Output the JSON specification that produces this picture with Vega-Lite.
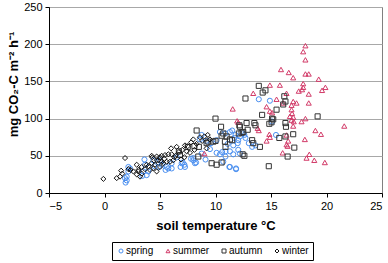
{
  "$schema": "https://vega.github.io/schema/vega-lite/v6.json",
  "width": 333,
  "height": 186,
  "autosize": "none",
  "padding": {"left": 49, "top": 7, "right": 6, "bottom": 70},
  "background": "white",
  "config": {
    "font": "Liberation Sans",
    "view": {"stroke": "#808080", "strokeWidth": 1},
    "axis": {"labelFont": "Liberation Sans", "labelFontSize": 11, "labelColor": "black", "titleFont": "Liberation Sans", "titleFontSize": 13, "titleFontWeight": "bold", "titleColor": "black", "domainColor": "black", "tickColor": "black", "tickSize": 4},
    "legend": {"orient": "none", "legendX": 63, "legendY": 235, "direction": "horizontal", "strokeColor": "black", "padding": 4, "symbolSize": 16, "labelFontSize": 10, "labelFont": "Liberation Sans", "labelColor": "black", "columnPadding": 9, "labelOffset": 0, "symbolStrokeWidth": 1}
  },
  "data": {"values": [
    {"season":"spring","t":1.9,"f":14},{"season":"spring","t":2.0,"f":17},{"season":"spring","t":2.0,"f":22},{"season":"spring","t":1.85,"f":20},{"season":"spring","t":2.15,"f":29},{"season":"spring","t":2.15,"f":35},{"season":"spring","t":2.3,"f":33},{"season":"spring","t":3.4,"f":23},{"season":"spring","t":3.5,"f":29},{"season":"spring","t":3.65,"f":38},{"season":"spring","t":3.6,"f":45},{"season":"spring","t":3.8,"f":24},{"season":"spring","t":3.95,"f":29},{"season":"spring","t":4.5,"f":36},{"season":"spring","t":4.9,"f":35},{"season":"spring","t":5.0,"f":44},{"season":"spring","t":5.15,"f":38},{"season":"spring","t":5.5,"f":31},{"season":"spring","t":5.6,"f":35},{"season":"spring","t":6.05,"f":40},{"season":"spring","t":6.05,"f":33},{"season":"spring","t":5.75,"f":33},{"season":"spring","t":6.95,"f":40},{"season":"spring","t":7.05,"f":41},{"season":"spring","t":6.85,"f":35},{"season":"spring","t":7.2,"f":38},{"season":"spring","t":7.25,"f":35},{"season":"spring","t":8.0,"f":44},{"season":"spring","t":8.0,"f":47},{"season":"spring","t":8.15,"f":40},{"season":"spring","t":8.25,"f":41},{"season":"spring","t":8.75,"f":53},{"season":"spring","t":9.1,"f":45},{"season":"spring","t":8.75,"f":78},{"season":"spring","t":8.6,"f":72},{"season":"spring","t":9.15,"f":70},{"season":"spring","t":9.6,"f":67},{"season":"spring","t":10.1,"f":71},{"season":"spring","t":9.5,"f":59},{"season":"spring","t":10.1,"f":54},{"season":"spring","t":10.6,"f":55},{"season":"spring","t":10.7,"f":42},{"season":"spring","t":11.3,"f":35},{"season":"spring","t":11.85,"f":33},{"season":"spring","t":11.1,"f":66},{"season":"spring","t":11.6,"f":64},{"season":"spring","t":12.0,"f":67},{"season":"spring","t":10.4,"f":82},{"season":"spring","t":10.9,"f":80},{"season":"spring","t":11.3,"f":82},{"season":"spring","t":11.5,"f":84},{"season":"spring","t":11.8,"f":78},{"season":"spring","t":11.7,"f":74},{"season":"spring","t":12.05,"f":71},{"season":"spring","t":12.2,"f":76},{"season":"spring","t":12.45,"f":80},{"season":"spring","t":12.6,"f":78},{"season":"spring","t":12.7,"f":74},{"season":"spring","t":13.0,"f":67},{"season":"spring","t":10.4,"f":52},{"season":"spring","t":10.9,"f":56},{"season":"spring","t":11.3,"f":56},{"season":"spring","t":11.6,"f":52},{"season":"spring","t":12.05,"f":58},{"season":"spring","t":12.2,"f":53},{"season":"spring","t":10.9,"f":49},{"season":"spring","t":11.25,"f":35},{"season":"spring","t":11.85,"f":32},{"season":"spring","t":13.9,"f":126},{"season":"spring","t":14.9,"f":124},{"season":"spring","t":15.45,"f":78},{"season":"spring","t":13.3,"f":62},{"season":"spring","t":13.6,"f":64},{"season":"spring","t":15.1,"f":96},{"season":"spring","t":7.8,"f":46},{"season":"spring","t":6.5,"f":48},{"season":"spring","t":4.4,"f":44},
    {"season":"summer","t":18.1,"f":198},{"season":"summer","t":17.9,"f":190},{"season":"summer","t":18.1,"f":179},{"season":"summer","t":15.9,"f":166},{"season":"summer","t":16.6,"f":162},{"season":"summer","t":17.0,"f":155},{"season":"summer","t":18.1,"f":160},{"season":"summer","t":18.4,"f":160},{"season":"summer","t":19.3,"f":153},{"season":"summer","t":14.9,"f":145},{"season":"summer","t":15.8,"f":145},{"season":"summer","t":17.9,"f":147},{"season":"summer","t":17.9,"f":142},{"season":"summer","t":19.9,"f":142},{"season":"summer","t":19.6,"f":138},{"season":"summer","t":17.5,"f":137},{"season":"summer","t":17.8,"f":139},{"season":"summer","t":18.4,"f":133},{"season":"summer","t":16.4,"f":134},{"season":"summer","t":15.5,"f":126},{"season":"summer","t":13.4,"f":134},{"season":"summer","t":17.0,"f":123},{"season":"summer","t":17.3,"f":121},{"season":"summer","t":16.85,"f":118},{"season":"summer","t":18.4,"f":121},{"season":"summer","t":16.1,"f":121},{"season":"summer","t":11.55,"f":113},{"season":"summer","t":14.6,"f":116},{"season":"summer","t":14.9,"f":110},{"season":"summer","t":15.1,"f":108},{"season":"summer","t":16.85,"f":112},{"season":"summer","t":16.9,"f":107},{"season":"summer","t":16.7,"f":103},{"season":"summer","t":17.0,"f":102},{"season":"summer","t":16.85,"f":98},{"season":"summer","t":17.05,"f":96},{"season":"summer","t":17.0,"f":90},{"season":"summer","t":17.75,"f":96},{"season":"summer","t":18.1,"f":100},{"season":"summer","t":11.95,"f":97},{"season":"summer","t":12.05,"f":95},{"season":"summer","t":13.8,"f":87},{"season":"summer","t":13.9,"f":84},{"season":"summer","t":14.85,"f":79},{"season":"summer","t":14.6,"f":70},{"season":"summer","t":14.9,"f":75},{"season":"summer","t":16.4,"f":78},{"season":"summer","t":16.55,"f":70},{"season":"summer","t":16.4,"f":65},{"season":"summer","t":16.05,"f":54},{"season":"summer","t":19.0,"f":84},{"season":"summer","t":19.5,"f":79},{"season":"summer","t":18.05,"f":72},{"season":"summer","t":18.45,"f":52},{"season":"summer","t":18.2,"f":47},{"season":"summer","t":18.9,"f":44},{"season":"summer","t":19.85,"f":41},{"season":"summer","t":21.6,"f":90},{"season":"summer","t":9.0,"f":53},{"season":"summer","t":16.5,"f":63},
    {"season":"autumn","t":13.9,"f":144},{"season":"autumn","t":14.5,"f":138},{"season":"autumn","t":14.25,"f":135},{"season":"autumn","t":12.7,"f":127},{"season":"autumn","t":16.2,"f":130},{"season":"autumn","t":16.3,"f":123},{"season":"autumn","t":16.1,"f":119},{"season":"autumn","t":14.2,"f":105},{"season":"autumn","t":15.2,"f":99},{"season":"autumn","t":15.05,"f":95},{"season":"autumn","t":14.85,"f":93},{"season":"autumn","t":13.5,"f":94},{"season":"autumn","t":13.6,"f":91},{"season":"autumn","t":12.8,"f":94},{"season":"autumn","t":12.15,"f":91},{"season":"autumn","t":12.2,"f":89},{"season":"autumn","t":12.35,"f":81},{"season":"autumn","t":12.5,"f":82},{"season":"autumn","t":10.55,"f":77},{"season":"autumn","t":10.85,"f":69},{"season":"autumn","t":11.3,"f":72},{"season":"autumn","t":11.0,"f":76},{"season":"autumn","t":12.45,"f":52},{"season":"autumn","t":12.6,"f":50},{"season":"autumn","t":10.55,"f":41},{"season":"autumn","t":13.3,"f":71},{"season":"autumn","t":13.4,"f":67},{"season":"autumn","t":14.8,"f":36},{"season":"autumn","t":16.3,"f":94},{"season":"autumn","t":16.35,"f":89},{"season":"autumn","t":15.75,"f":74},{"season":"autumn","t":16.3,"f":76},{"season":"autumn","t":17.0,"f":79},{"season":"autumn","t":17.1,"f":61},{"season":"autumn","t":16.5,"f":49},{"season":"autumn","t":19.2,"f":103},{"season":"autumn","t":15.1,"f":100},{"season":"autumn","t":15.5,"f":112},{"season":"autumn","t":10.0,"f":100},{"season":"autumn","t":10.5,"f":89},{"season":"autumn","t":10.7,"f":80},{"season":"autumn","t":10.0,"f":70},{"season":"autumn","t":8.3,"f":84},{"season":"autumn","t":8.1,"f":63},{"season":"autumn","t":8.5,"f":62},{"season":"autumn","t":6.7,"f":56},{"season":"autumn","t":6.8,"f":51},{"season":"autumn","t":9.65,"f":40},{"season":"autumn","t":10.1,"f":38},{"season":"autumn","t":9.2,"f":67},{"season":"autumn","t":9.35,"f":69},{"season":"autumn","t":9.8,"f":69},{"season":"autumn","t":10.9,"f":62},{"season":"autumn","t":11.5,"f":71},{"season":"autumn","t":8.45,"f":49},{"season":"autumn","t":7.5,"f":62},{"season":"autumn","t":12.9,"f":85},{"season":"autumn","t":14.0,"f":62},{"season":"autumn","t":12.1,"f":80},
    {"season":"winter","t":-0.1,"f":19},{"season":"winter","t":1.1,"f":20},{"season":"winter","t":1.4,"f":22},{"season":"winter","t":1.6,"f":26},{"season":"winter","t":1.5,"f":30},{"season":"winter","t":1.85,"f":47},{"season":"winter","t":2.15,"f":32},{"season":"winter","t":2.35,"f":31},{"season":"winter","t":2.6,"f":29},{"season":"winter","t":2.9,"f":25},{"season":"winter","t":3.2,"f":22},{"season":"winter","t":3.05,"f":29},{"season":"winter","t":3.35,"f":26},{"season":"winter","t":2.9,"f":38},{"season":"winter","t":3.05,"f":31},{"season":"winter","t":3.35,"f":35},{"season":"winter","t":3.65,"f":32},{"season":"winter","t":3.95,"f":36},{"season":"winter","t":4.25,"f":40},{"season":"winter","t":4.55,"f":38},{"season":"winter","t":3.8,"f":38},{"season":"winter","t":4.1,"f":31},{"season":"winter","t":4.4,"f":33},{"season":"winter","t":4.7,"f":29},{"season":"winter","t":5.0,"f":35},{"season":"winter","t":4.3,"f":48},{"season":"winter","t":4.7,"f":44},{"season":"winter","t":4.25,"f":50},{"season":"winter","t":4.7,"f":49},{"season":"winter","t":5.0,"f":48},{"season":"winter","t":5.15,"f":50},{"season":"winter","t":5.45,"f":51},{"season":"winter","t":5.75,"f":52},{"season":"winter","t":6.05,"f":52},{"season":"winter","t":4.85,"f":44},{"season":"winter","t":5.15,"f":42},{"season":"winter","t":5.3,"f":40},{"season":"winter","t":5.6,"f":42},{"season":"winter","t":5.9,"f":42},{"season":"winter","t":6.2,"f":44},{"season":"winter","t":6.4,"f":50},{"season":"winter","t":6.7,"f":55},{"season":"winter","t":7.25,"f":64},{"season":"winter","t":7.5,"f":63},{"season":"winter","t":7.4,"f":56},{"season":"winter","t":7.7,"f":54},{"season":"winter","t":6.0,"f":60},{"season":"winter","t":6.5,"f":62},{"season":"winter","t":7.0,"f":58},{"season":"winter","t":7.2,"f":48},{"season":"winter","t":6.9,"f":45},{"season":"winter","t":7.8,"f":68},{"season":"winter","t":8.0,"f":72},{"season":"winter","t":8.3,"f":66},{"season":"winter","t":8.6,"f":75},{"season":"winter","t":8.8,"f":70},{"season":"winter","t":9.0,"f":76},{"season":"winter","t":9.3,"f":78},{"season":"winter","t":9.5,"f":72},{"season":"winter","t":9.2,"f":60},{"season":"winter","t":8.1,"f":58},{"season":"winter","t":5.4,"f":46},{"season":"winter","t":6.3,"f":48}
  ]},
  "mark": {"type": "point", "filled": false, "size": 26, "strokeWidth": 1, "opacity": 1},
  "encoding": {
    "x": {"field": "t", "type": "quantitative", "scale": {"domain": [-5, 25], "nice": false, "zero": false},
      "axis": {"title": "soil temperature °C", "values": [-5, 0, 5, 10, 15, 20, 25], "grid": false, "labelPadding": 3, "titlePadding": 8}},
    "y": {"field": "f", "type": "quantitative", "scale": {"domain": [0, 250], "nice": false},
      "axis": {"title": "mg CO₂-C  m⁻² h⁻¹", "values": [0, 50, 100, 150, 200, 250], "grid": true, "gridColor": "#a8a8a8", "gridWidth": 1, "labelPadding": 3, "titleX": -36, "titleY": 77, "titleAngle": 270, "titleAlign": "center", "titleBaseline": "middle"}},
    "shape": {"field": "season", "type": "nominal", "title": null,
      "scale": {"domain": ["spring", "summer", "autumn", "winter"], "range": ["circle", "triangle-up", "square", "diamond"]}},
    "color": {"field": "season", "type": "nominal", "title": null,
      "scale": {"domain": ["spring", "summer", "autumn", "winter"], "range": ["#4a8ff0", "#d23a68", "#333333", "#111111"]}}
  }
}
